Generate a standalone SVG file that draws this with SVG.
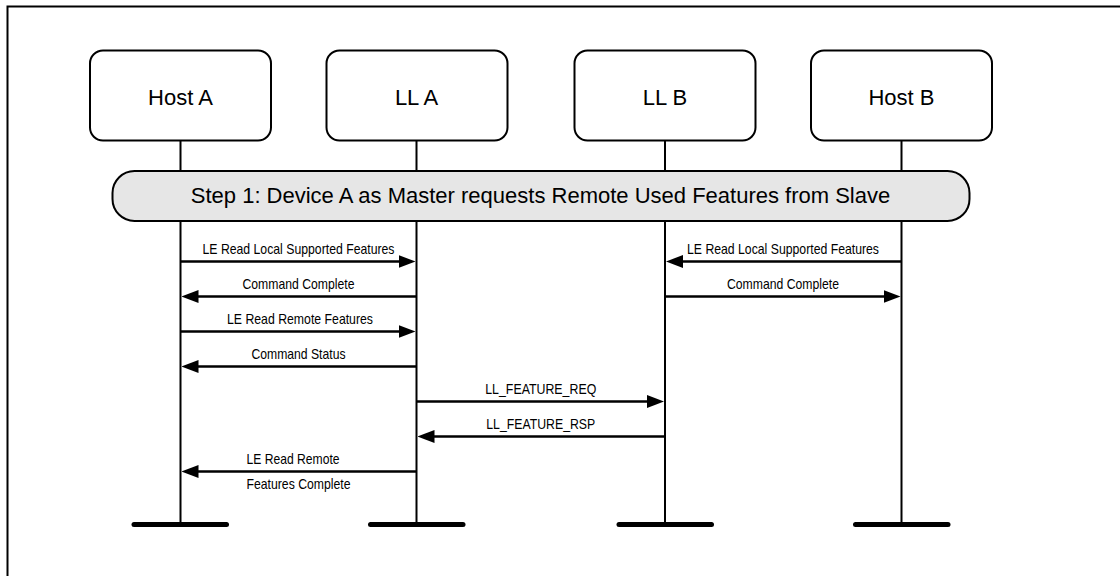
<svg xmlns="http://www.w3.org/2000/svg" width="1120" height="576" viewBox="0 0 1120 576">
  <style>
    .frame { fill: none; stroke: #000; stroke-width: 2; }
    .box { fill: #fff; stroke: #000; stroke-width: 2; }
    .life { stroke: #000; stroke-width: 2; fill: none; }
    .bar { stroke: #000; stroke-width: 5; stroke-linecap: round; }
    .banner { fill: #e6e6e6; stroke: #000; stroke-width: 2; }
    .title { font-family: "Liberation Sans", Arial, sans-serif; font-size: 22px; fill: #000; text-anchor: middle; }
    .msg { stroke: #000; stroke-width: 2.5; fill: none; marker-end: url(#ah); }
    .lbl { font-family: "Liberation Sans Narrow", "Arial Narrow", "Liberation Sans", Arial, sans-serif; font-size: 14.5px; fill: #000; text-anchor: middle; }
    .lbl-s { text-anchor: start; }
  </style>
  <defs>
    <marker id="ah" markerUnits="userSpaceOnUse" markerWidth="17" markerHeight="13" viewBox="0 0 17 13" refX="9" refY="6.5" orient="auto">
      <path d="M0,0 L17,6.5 L0,13 Z" fill="#000"/>
    </marker>
  </defs>

  <rect class="frame" x="7.5" y="6.5" width="1200" height="640"/>

  <g id="host-a">
    <line class="life" x1="180.5" y1="140.5" x2="180.5" y2="524.5"/>
    <line class="bar" x1="134" y1="524.5" x2="226.5" y2="524.5"/>
    <rect class="box" x="90" y="50.5" width="181" height="90" rx="13"/>
    <text class="title" x="180.5" y="104.5">Host A</text>
  </g>
  <g id="ll-a">
    <line class="life" x1="416.5" y1="140.5" x2="416.5" y2="524.5"/>
    <line class="bar" x1="370.5" y1="524.5" x2="463" y2="524.5"/>
    <rect class="box" x="326.5" y="50.5" width="181" height="90" rx="13"/>
    <text class="title" x="416.5" y="104.5">LL A</text>
  </g>
  <g id="ll-b">
    <line class="life" x1="665" y1="140.5" x2="665" y2="524.5"/>
    <line class="bar" x1="619" y1="524.5" x2="711.5" y2="524.5"/>
    <rect class="box" x="574.5" y="50.5" width="181" height="90" rx="13"/>
    <text class="title" x="665" y="104.5">LL B</text>
  </g>
  <g id="host-b">
    <line class="life" x1="901.5" y1="140.5" x2="901.5" y2="524.5"/>
    <line class="bar" x1="855.5" y1="524.5" x2="948" y2="524.5"/>
    <rect class="box" x="811" y="50.5" width="181" height="90" rx="13"/>
    <text class="title" x="901.5" y="104.5">Host B</text>
  </g>

  <g id="step-1">
    <rect class="banner" x="112.5" y="171" width="857" height="50" rx="22"/>
    <text class="title" x="540.5" y="203">Step 1: Device A as Master requests Remote Used Features from Slave</text>
  </g>

  <g id="connectors">
    <line class="msg" x1="180.5" y1="261.5" x2="407.5" y2="261.5"/>
    <text class="lbl" x="298.5" y="254" textLength="192" lengthAdjust="spacingAndGlyphs">LE Read Local Supported Features</text>

    <line class="msg" x1="416.5" y1="296.5" x2="189.5" y2="296.5"/>
    <text class="lbl" x="298.5" y="289" textLength="112" lengthAdjust="spacingAndGlyphs">Command Complete</text>

    <line class="msg" x1="180.5" y1="331.5" x2="407.5" y2="331.5"/>
    <text class="lbl" x="300" y="323.5" textLength="146" lengthAdjust="spacingAndGlyphs">LE Read Remote Features</text>

    <line class="msg" x1="416.5" y1="366.5" x2="189.5" y2="366.5"/>
    <text class="lbl" x="298.5" y="358.5" textLength="94" lengthAdjust="spacingAndGlyphs">Command Status</text>

    <line class="msg" x1="901.5" y1="261.5" x2="674" y2="261.5"/>
    <text class="lbl" x="783" y="254" textLength="192" lengthAdjust="spacingAndGlyphs">LE Read Local Supported Features</text>

    <line class="msg" x1="665" y1="296.5" x2="892.5" y2="296.5"/>
    <text class="lbl" x="783" y="289" textLength="112" lengthAdjust="spacingAndGlyphs">Command Complete</text>

    <line class="msg" x1="416.5" y1="401.5" x2="656" y2="401.5"/>
    <text class="lbl" x="540.75" y="394" textLength="111" lengthAdjust="spacingAndGlyphs">LL_FEATURE_REQ</text>

    <line class="msg" x1="665" y1="436.5" x2="425.5" y2="436.5"/>
    <text class="lbl" x="540.75" y="429" textLength="109" lengthAdjust="spacingAndGlyphs">LL_FEATURE_RSP</text>

    <line class="msg" x1="416.5" y1="471.5" x2="189.5" y2="471.5"/>
    <text class="lbl lbl-s" x="246.5" y="464" textLength="93" lengthAdjust="spacingAndGlyphs">LE Read Remote</text>
    <text class="lbl lbl-s" x="246.5" y="488.5" textLength="104" lengthAdjust="spacingAndGlyphs">Features Complete</text>
  </g>
</svg>
